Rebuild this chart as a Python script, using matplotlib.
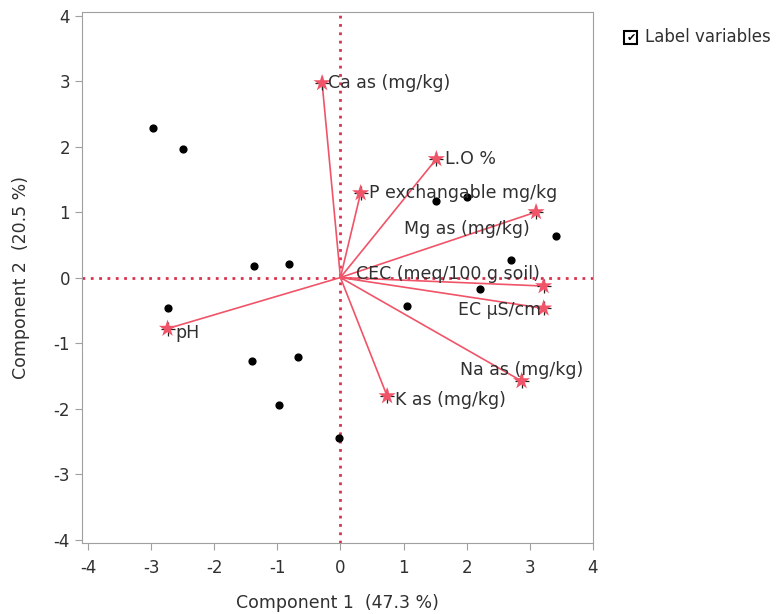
import numpy as np
import matplotlib
matplotlib.use('Agg')
import matplotlib.pyplot as plt

plt.rcParams['axes.unicode_minus'] = False

# PCA scores (component 1, component 2)
score_x = [-2.97, -2.49, -1.37, -0.81, 1.52, 2.00, 3.41, 2.71, 2.21, 1.05, -2.73, -1.40, -0.68, -0.97, -0.03]
score_y = [2.29, 1.97, 0.17, 0.21, 1.17, 1.23, 0.64, 0.26, -0.18, -0.43, -0.46, -1.28, -1.22, -1.95, -2.45]

# variable loadings (scaled)
var_names = ['Ca as (mg/kg)', 'L.O %', 'P exchangable mg/kg', 'Mg as (mg/kg)',
             'CEC (meq/100 g soil)', 'EC \u00b5S/cm', 'Na as (mg/kg)', 'K as (mg/kg)', 'pH']
load_x = [-0.29, 1.52, 0.32, 3.10, 3.22, 3.22, 2.87, 0.74, -2.74]
load_y = [2.97, 1.81, 1.29, 1.00, -0.13, -0.47, -1.58, -1.81, -0.78]

# label offsets in points from the star (left edge of text)
label_pos = [(4, 0), (6, 0), (6, 0), (-95, -12),
             (-135, 8.6), (-62, -1.5), (-44, 8), (6, -3), (5.5, -3)]

vec_color = '#f05468'
ref_color = '#d8344f'
grey = '#a0a0a0'
txt = '#303030'
fs = 12

fig = plt.figure(figsize=(7.78, 6.14), dpi=100)
ax = fig.add_axes([0.105, 0.116, 0.657, 0.864])

ax.axhline(0, color=ref_color, linestyle=(0, (1, 2)), linewidth=2, zorder=1)
ax.axvline(0, color=ref_color, linestyle=(0, (1, 2)), linewidth=2, zorder=1)

for lx, ly in zip(load_x, load_y):
    ax.plot([0, lx], [0, ly], color=vec_color, linewidth=1.2, zorder=2)

ax.scatter(score_x, score_y, s=24, color='black', zorder=4)

ax.scatter(load_x, load_y, marker='+', s=90, color='#222222', linewidths=0.9, zorder=3)
ax.scatter(load_x, load_y, marker='*', s=170, color=vec_color, edgecolors='none', zorder=5)

for name, lx, ly, (dx, dy) in zip(var_names, load_x, load_y, label_pos):
    ax.annotate(name, (lx, ly), xytext=(dx, dy), textcoords='offset points',
                ha='left', va='center', fontsize=12.5, color=txt, zorder=6)

ax.set_xlim(-4.1, 4.0)
ax.set_ylim(-4.05, 4.05)
ax.set_xticks(np.arange(-4, 5, 1))
ax.set_yticks(np.arange(-4, 5, 1))
ax.tick_params(direction='out', length=5, color=grey, labelsize=fs, labelcolor=txt)
ax.tick_params(axis='x', pad=7)
ax.get_xticklines()[8].set_color(ref_color)
ax.get_yticklines()[8].set_color(ref_color)
for sp in ax.spines.values():
    sp.set_color(grey)

ax.set_xlabel('Component 1  (47.3 %)', fontsize=12.5, color=txt, labelpad=12)
ax.set_ylabel('Component 2  (20.5 %)', fontsize=12.5, color=txt, labelpad=17)

# "Label variables" checkbox
fig.patches.append(plt.Rectangle((624 / 778, 1 - 44 / 614), 13 / 778, 13 / 614,
                                 transform=fig.transFigure, fill=False,
                                 edgecolor='black', linewidth=1.5))
fig.text(626.5 / 778, 1 - 37.5 / 614, '\u2714', fontsize=8, va='center', ha='left', color='black')
fig.text(645 / 778, 1 - 37 / 614, 'Label variables', fontsize=fs, va='center', ha='left', color=txt)

fig.savefig('out.png', dpi=100)
